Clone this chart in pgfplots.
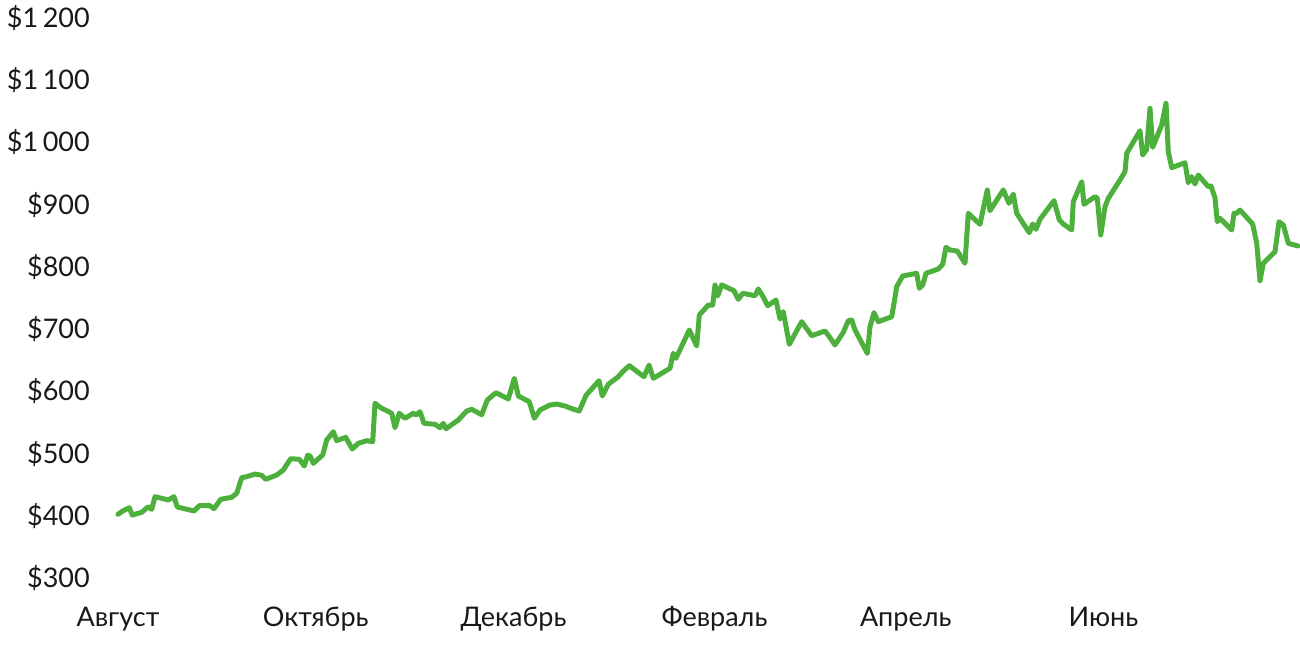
\documentclass[border=0pt]{standalone}
\usepackage{pgfplots}
\pgfplotsset{compat=1.18}
\usepackage{fontspec}
\setmainfont{Lato}
\definecolor{lineg}{RGB}{77,176,60}
\begin{document}
\begin{tikzpicture}
\begin{axis}[
  scale only axis, width=1180pt, height=560pt,
  xmin=0, xmax=364, ymin=300, ymax=1200,
  axis line style={draw=none}, major tick length=0pt,
  clip=false,
  xtick={0,61,122,184,243,304},
  xticklabels={Август,Октябрь,Декабрь,Февраль,Апрель,Июнь},
  ytick={300,400,500,600,700,800,900,1000,1100,1200},
  yticklabels={\$300,\$400,\$500,\$600,\$700,\$800,\$900,\$1\,000,\$1\,100,\$1\,200},
  ticklabel style={font=\fontsize{27}{32}\selectfont, text=black!90},
  xticklabel style={anchor=base, inner sep=0pt, yshift=-48pt},
  yticklabel style={anchor=east, inner sep=0pt, xshift=-28pt},
]
\coordinate (O) at (rel axis cs:0,0);
\addplot[lineg, line width=5pt, line join=round, line cap=round] coordinates {
(0,402.4)(1.45,407.7)(3.49,413.0)(4.41,401.2)(7.31,405.6)(9.35,414.6)(10.40,410.4)(11.41,430.7)
(15.52,425.4)(17.27,430.7)(18.29,414.1)(23.44,407.7)(25.08,416.2)(28.38,416.2)(29.61,411.4)
(31.68,426.5)(35.07,429.7)(36.62,436.1)(38.16,461.2)(39.70,462.8)(42.26,467.1)(44.33,465.0)
(45.56,458.6)(48.95,465.5)(50.99,473.6)(53.27,491.7)(55.93,490.8)(57.47,480.0)(58.52,497.2)
(59.23,496.1)(60.24,484.3)(63.14,497.7)(64.38,521.8)(66.41,535.1)(67.46,520.7)(70.24,526.1)
(72.28,507.3)(74.13,516.5)(76.72,520.7)(78.57,519.1)(79.28,580.8)(81.04,573.7)(84.43,564.7)
(85.45,541.6)(86.77,564.7)(88.53,556.7)(91.09,564.7)(91.93,562.0)(93.16,567.3)(94.39,548.6)
(97.79,547.0)(99.33,541.6)(100.35,548.6)(101.18,539.9)(104.98,553.9)(107.57,568.4)(109.11,571.1)
(112.20,562.4)(113.92,586.1)(116.61,597.8)(120.40,587.7)(122.25,620.9)(123.49,592.5)(126.88,583.3)
(128.42,556.7)(130.18,570.0)(133.26,578.0)(135.33,579.6)(137.89,576.4)(140.27,571.6)(142.30,568.4)
(144.37,593.6)(148.38,617.1)(149.40,592.5)(151.24,611.3)(154.33,623.5)(155.68,631.5)(157.72,641.2)
(162.26,623.5)(163.80,642.3)(165.13,620.9)(170.28,637.0)(171.29,661.1)(172.13,653.1)(176.23,698.6)
(178.51,672.9)(179.32,722.7)(182.09,738.7)(183.45,738.7)(184.16,770.9)(184.99,753.2)(186.22,770.9)
(190.02,761.7)(191.35,747.9)(192.70,757.5)(196.50,753.7)(197.51,764.5)(198.87,753.2)(200.41,737.6)
(202.97,746.8)(204.21,716.2)(205.22,728.0)(207.08,675.6)(210.90,711.9)(213.99,689.4)(218.09,697.0)
(219.42,687.8)(221.18,674.5)(223.74,694.9)(225.28,713.5)(226.33,714.6)(227.35,698.6)(231.14,661.1)
(231.98,703.9)(233.21,726.4)(234.53,711.9)(238.67,719.9)(239.38,741.5)(240.21,768.2)(242.06,785.4)
(246.38,789.7)(247.18,765.6)(248.23,770.9)(249.25,789.7)(253.04,796.6)(254.40,804.2)(255.41,831.5)
(256.65,827.1)(258.90,825.5)(261.27,805.8)(262.29,886.1)(265.90,868.4)(268.15,923.6)(268.98,890.3)
(273.09,923.6)(274.84,902.2)(276.17,917.1)(277.22,886.1)(281.11,855.0)(282.16,868.9)(283.18,860.4)
(284.41,876.5)(288.73,906.4)(290.37,875.4)(291.60,868.9)(294.19,859.3)(294.69,904.8)(297.28,936.9)
(297.99,900.6)(301.38,912.8)(302.09,910.2)(303.14,851.2)(304.47,896.7)(305.48,910.2)(309.09,939.6)
(310.63,953.0)(311.16,982.5)(315.26,1018.9)(316.09,979.8)(317.33,989.0)(318.34,1054.9)(319.18,992.2)
(321.95,1028.0)(323.28,1062.9)(323.99,985.1)(325.04,959.4)(329.14,967.4)(330.16,935.3)(331.21,945.0)
(332.22,933.2)(333.24,947.7)(336.33,928.9)(337.16,930.0)(338.39,911.2)(339.10,872.6)(339.94,878.1)
(343.55,859.3)(344.25,886.1)(345.09,886.1)(346.11,891.4)(350.02,868.9)(351.26,837.9)(352.28,777.8)
(353.30,805.8)(356.91,824.4)(358.14,872.6)(359.47,867.3)(361.01,837.9)(364,833.6)
};
\end{axis}
\pgfresetboundingbox
\path ([shift={(-118pt,-72pt)}]O) rectangle ([shift={(1182pt,578pt)}]O);
\end{tikzpicture}
\end{document}
